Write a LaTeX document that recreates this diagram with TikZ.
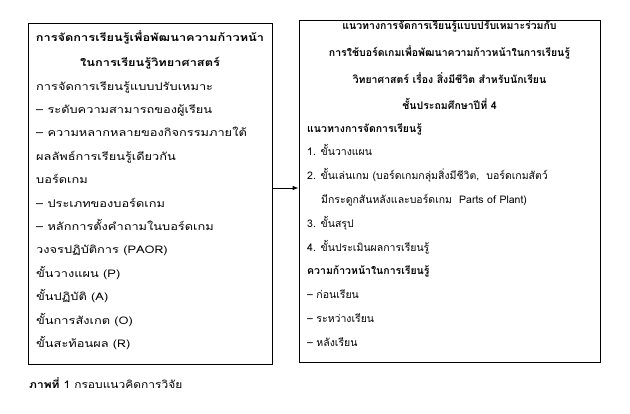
\documentclass[tikz,border=0pt]{standalone}
\usepackage{fontspec}
\setmainfont[Script=Thai]{Loma}
\newfontfamily\widethai[Script=Thai, FakeStretch=1.22]{Loma}
\newfontfamily\capthai[Script=Thai, FakeStretch=1.14]{Loma}
\usetikzlibrary{positioning,arrows.meta}

\begin{document}
\begin{tikzpicture}[
    x=1pt, y=-1pt,
    framebox/.style={rectangle, draw, line width=0.8pt, inner sep=0pt},
    listtext/.style={align=left, inner sep=0pt, font=\fontsize{10.5}{23.8}\selectfont},
    headtext/.style={listtext, align=center},
    widetext/.style={font=\widethai\fontsize{10.5}{23.4}\selectfont},
    link/.style={draw, -{Latex[length=6pt,width=4.5pt]}, line width=0.8pt}
  ]
\useasboundingbox (0,0) rectangle (630,413);

% left frame
\node[framebox, minimum width=244pt, minimum height=341pt] (leftbox) at (150,193.5) {};
\node[headtext, widetext, anchor=north] (lefthead) at (150,30.5) {\textbf{การจัดการเรียนรู้เพื่อพัฒนาความก้าวหน้า}\\[2pt]
\textbf{ในการเรียนรู้วิทยาศาสตร์}};
\node[listtext, widetext, anchor=north west] (leftlist) at (36,81) {การจัดการเรียนรู้แบบปรับเหมาะ\\
– ระดับความสามารถของผู้เรียน\\
– ความหลากหลายของกิจกรรมภายใต้\\
ผลลัพธ์การเรียนรู้เดียวกัน\\
บอร์ดเกม\\
– ประเภทของบอร์ดเกม\\
– หลักการตั้งคำถามในบอร์ดเกม\\
วงจรปฏิบัติการ (PAOR)\\
ขั้นวางแผน (P)\\
ขั้นปฏิบัติ (A)\\
ขั้นการสังเกต (O)\\
ขั้นสะท้อนผล (R)};

% right frame
\node[framebox, minimum width=301pt, minimum height=342pt] (rightbox) at (449.5,191) {};
\node[headtext, anchor=north] (righthead) at (449.5,20.5) {\textbf{แนวทางการจัดการเรียนรู้แบบปรับเหมาะร่วมกับ}\\[3pt]
\textbf{การใช้บอร์ดเกมเพื่อพัฒนาความก้าวหน้าในการเรียนรู้}\\[3pt]
\textbf{วิทยาศาสตร์ เรื่อง สิ่งมีชีวิต สำหรับนักเรียน}\\[3pt]
\textbf{ชั้นประถมศึกษาปีที่ 4}};
\node[listtext, anchor=north west] (rightlist) at (307,123) {\textbf{แนวทางการจัดการเรียนรู้}\\
1. ขั้นวางแผน\\
2. ขั้นเล่นเกม (บอร์ดเกมกลุ่มสิ่งมีชีวิต, \ บอร์ดเกมสัตว์\\
\hspace*{14pt}มีกระดูกสันหลังและบอร์ดเกม \ Parts of Plant)\\
3. ขั้นสรุป\\
4. ขั้นประเมินผลการเรียนรู้\\
\textbf{ความก้าวหน้าในการเรียนรู้}\\
– ก่อนเรียน\\
– ระหว่างเรียน\\
– หลังเรียน};

% connector
\coordinate (linky) at (0,188);
\path[link] (leftbox.east |- linky) -- (rightbox.west |- linky);

% caption
\node[listtext, anchor=west, font=\capthai\fontsize{10.5}{12}\selectfont] (caption) at (29,383) {\textbf{ภาพที่} 1 กรอบแนวคิดการวิจัย};

\end{tikzpicture}
\end{document}
